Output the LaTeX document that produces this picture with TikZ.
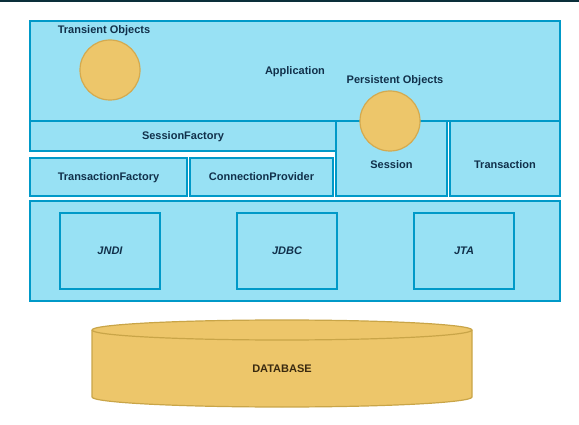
\documentclass[tikz,border=0pt]{standalone}
\usepackage{fontspec}
\setmainfont{Liberation Sans}
\usepackage{tikz}
\usetikzlibrary{positioning, shapes.geometric}
\definecolor{layerfill}{RGB}{152, 225, 244}
\definecolor{layerline}{RGB}{0, 153, 200}
\definecolor{objfill}{RGB}{237, 198, 106}
\definecolor{objline}{RGB}{212, 170, 79}
\definecolor{dbline}{RGB}{201, 165, 72}
\definecolor{labeltext}{RGB}{17, 48, 74}
\definecolor{dbtext}{RGB}{58, 42, 16}
\definecolor{topbar}{RGB}{10, 47, 58}

\begin{document}
\begin{tikzpicture}[
        x=1pt, y=-1pt,
        layer/.style={draw=layerline, fill=layerfill, line width=2pt, inner sep=0pt, outer sep=0pt, align=center, text=labeltext, text depth=0pt, font=\fontsize{11}{13}\selectfont\bfseries},
        module/.style={layer, font=\fontsize{11}{13}\selectfont\bfseries\itshape},
        persist/.style={circle, draw=objline, fill=objfill, line width=1.2pt, minimum size=60pt, inner sep=0pt},
        caption/.style={text=labeltext, text depth=0pt, font=\fontsize{11}{13}\selectfont\bfseries, inner sep=0pt},
        dbshape/.style={draw=dbline, fill=objfill, line width=1.2pt, line join=round}
    ]
        \useasboundingbox (0,0) rectangle (579,425);
        \fill[topbar] (0,0) rectangle (579,2);

        % application layer
        \node[layer, minimum width=530pt, minimum height=100pt] (app) at (295,71) {Application};
        \node[layer, minimum width=306pt, minimum height=30pt] (sfactory) at (183,136) {SessionFactory};
        \node[layer, minimum width=157pt, minimum height=38pt] (tfactory) at (108.5,177) {TransactionFactory};
        \node[layer, minimum width=143pt, minimum height=38pt] (cprovider) at (261.5,177) {ConnectionProvider};
        \node[layer, minimum width=111pt, minimum height=75pt, label={[caption, yshift=-6.5pt]center:Session}] (session) at (391.5,158.5) {};
        \node[layer, minimum width=110pt, minimum height=75pt, label={[caption, yshift=-6.5pt]center:Transaction}] (transaction) at (505,158.5) {};

        \node[persist] (transient) at (110,70) {};
        \node[caption] (transientlbl) at (104,30) {Transient Objects};
        \node[persist] (persistent) at (390,121) {};
        \node[caption] (persistentlbl) at (395,80) {Persistent Objects};

        % java apis
        \node[layer, minimum width=530pt, minimum height=100pt] (apis) at (295,251) {};
        \node[module, minimum width=100pt, minimum height=76pt] (jndi) at (110,251) {JNDI};
        \node[module, minimum width=100pt, minimum height=76pt] (jdbc) at (287,251) {JDBC};
        \node[module, minimum width=100pt, minimum height=76pt] (jta) at (464,251) {JTA};

        % database
        \draw[dbshape] (92,330) -- (92,397) arc[start angle=180, end angle=0, x radius=190, y radius=10]
            -- (472,330) arc[start angle=0, end angle=-180, x radius=190, y radius=10] -- cycle;
        \draw[dbshape, fill=none] (92,330) arc[start angle=180, end angle=0, x radius=190, y radius=10];
        \node[caption, text=dbtext] (db) at (282,369) {DATABASE};
    \end{tikzpicture}
\end{document}
